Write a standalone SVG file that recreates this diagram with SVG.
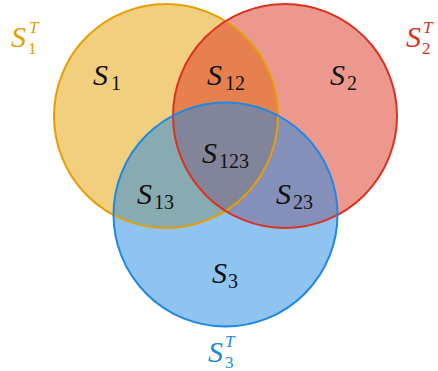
<svg xmlns="http://www.w3.org/2000/svg" width="438" height="371" viewBox="0 0 438 371">
<style>
.lbl{font-family:"Liberation Serif","Times New Roman",serif;fill:#111}
.m{font-style:italic;font-size:30px}
.s{font-size:20px;font-style:normal}
.ss{font-size:17px;font-style:normal}
.t{font-style:italic;font-size:17px}
.ring{fill:none;stroke-width:2}
</style>
<rect width="438" height="371" fill="#ffffff"/>
<g id="set1"><circle cx="166" cy="116" r="112" fill="#E69F00" fill-opacity="0.5"/></g>
<g id="set2"><circle cx="285" cy="116" r="112" fill="#DC3220" fill-opacity="0.5"/></g>
<g id="set3"><circle cx="225.5" cy="214.5" r="112" fill="#1E88E5" fill-opacity="0.5"/></g>
<g id="outlines">
<circle class="ring" cx="166" cy="116" r="112" stroke="#E69F00"/>
<circle class="ring" cx="285" cy="116" r="112" stroke="#DC3220"/>
<circle class="ring" cx="225.5" cy="214.5" r="112" stroke="#1E88E5"/>
</g>
<g id="labels" class="lbl">
<text><tspan class="m" x="93" y="85">S</tspan><tspan class="s" x="111" y="90">1</tspan></text>
<text><tspan class="m" x="207" y="85">S</tspan><tspan class="s" x="225" y="90">12</tspan></text>
<text><tspan class="m" x="330" y="85">S</tspan><tspan class="s" x="347" y="90">2</tspan></text>
<text><tspan class="m" x="202" y="163">S</tspan><tspan class="s" x="219" y="168">123</tspan></text>
<text><tspan class="m" x="137" y="204">S</tspan><tspan class="s" x="154" y="209">13</tspan></text>
<text><tspan class="m" x="276" y="204">S</tspan><tspan class="s" x="293" y="209">23</tspan></text>
<text><tspan class="m" x="212" y="283">S</tspan><tspan class="s" x="228" y="288">3</tspan></text>
</g>
<g id="titles" class="lbl">
<text style="fill:#E69F00"><tspan class="m" x="11" y="47">S</tspan><tspan class="t" x="29" y="33">T</tspan><tspan class="ss" x="28" y="54">1</tspan></text>
<text style="fill:#DC3220"><tspan class="m" x="406" y="47">S</tspan><tspan class="t" x="423" y="33">T</tspan><tspan class="ss" x="422" y="54">2</tspan></text>
<text style="fill:#1E88E5"><tspan class="m" x="208" y="362">S</tspan><tspan class="t" x="225" y="347">T</tspan><tspan class="ss" x="225" y="368">3</tspan></text>
</g>
</svg>
